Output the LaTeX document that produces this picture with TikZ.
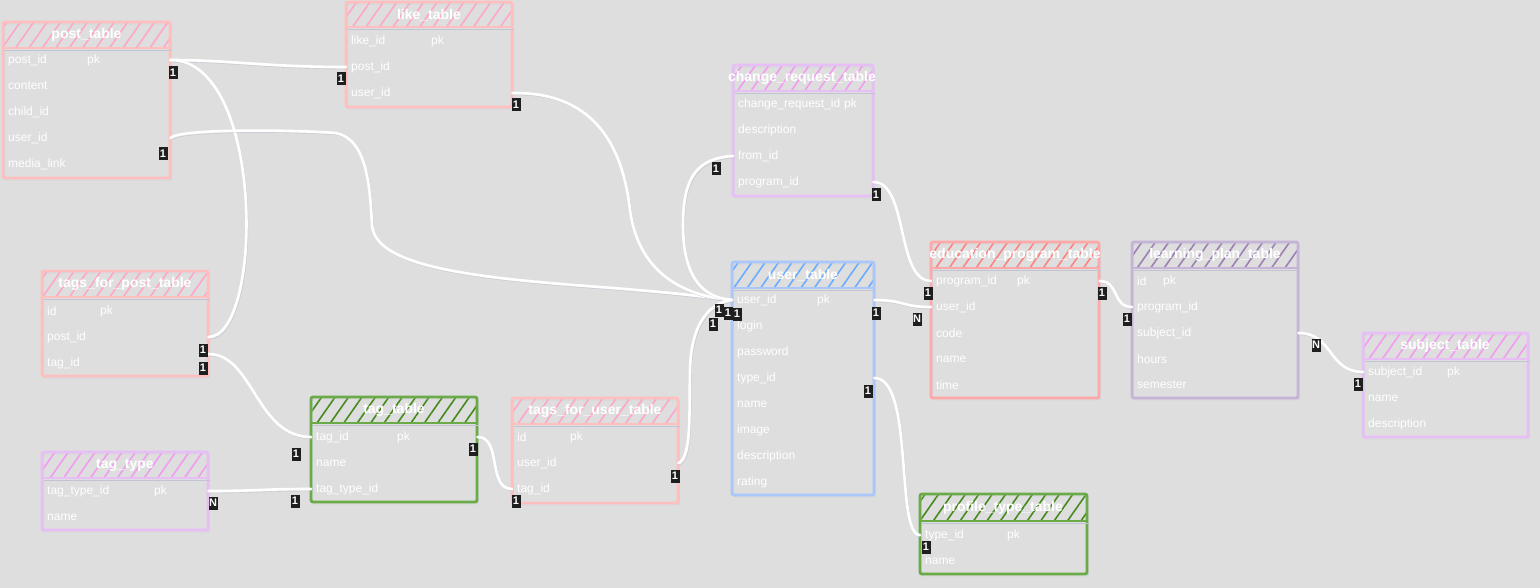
\documentclass[tikz,border=0pt]{standalone}
\usepackage{fontspec}
\setmainfont{Liberation Sans}
\usetikzlibrary{patterns.meta}

\definecolor{bgc}{HTML}{DEDEDE}
\definecolor{shadc}{HTML}{C2C4D4}
\definecolor{pinkc}{HTML}{FFBFBF}
\definecolor{pinkh}{HTML}{FFA6C9}
\definecolor{lilac}{HTML}{E8BEF7}
\definecolor{lilach}{HTML}{F29BF0}
\definecolor{bluec}{HTML}{A9C7F9}
\definecolor{blueh}{HTML}{6AACFF}
\definecolor{salmc}{HTML}{FFA8A8}
\definecolor{salmh}{HTML}{FF8282}
\definecolor{greyc}{HTML}{C6B4D8}
\definecolor{greyh}{HTML}{9C80B4}
\definecolor{greenc}{HTML}{6AAB47}
\definecolor{greenh}{HTML}{468A1E}

\begin{document}
\begin{tikzpicture}[x=1pt, y=-1pt,
    tabframe/.style={draw=#1, line width=2.8pt, rounded corners=2pt,
        preaction={draw=shadc, transform canvas={shift={(1.5pt,-2pt)}}}},
    hatch/.style={pattern={Lines[angle=55,distance=11pt,line width=1.6pt]}, pattern color=#1},
    ttl/.style={text=white, font=\bfseries\fontsize{14}{16}\selectfont, inner sep=0pt},
    field/.style={anchor=west, text=white, font=\fontsize{12}{14}\selectfont, inner xsep=5pt, inner ysep=0pt, minimum height=26pt, text width=#1, align=left},
    pk/.style={anchor=west, text=white, font=\fontsize{12}{14}\selectfont, inner sep=0pt},
    rel/.style={draw=white, line width=2.6pt, line cap=round,
        preaction={draw=shadc, transform canvas={shift={(1.5pt,-2pt)}}}},
    card/.style={fill=black!88, text=white, font=\bfseries\fontsize{11}{11}\selectfont, inner sep=0pt, minimum width=9pt, minimum height=13pt}]

    % Background
    \fill[bgc] (0,0) rectangle (1540,588);
    \useasboundingbox (0,0) rectangle (1540,588);

    % post_table
    \fill[hatch=pinkh] (3,22) rectangle (170,48);
    \draw[tabframe=pinkc] (3,22) rectangle (170,178);
    \draw[tabframe=pinkc] (3,48) -- (170,48);
    \node[ttl] (post) at (86.5,35) {post\_table};
    \node[field=157pt] (post-pid) at (3,60) {post\_id};
    \node[field=157pt] (post-cont) at (3,86) {content};
    \node[field=157pt] (post-child) at (3,112) {child\_id};
    \node[field=157pt] (post-uid) at (3,138) {user\_id};
    \node[field=157pt] (post-media) at (3,164) {media\_link};
    \node[pk] (post-pk) at (87,60) {pk};

    % like_table
    \fill[hatch=pinkh] (346,2) rectangle (512,27);
    \draw[tabframe=pinkc] (346,2) rectangle (512,107);
    \draw[tabframe=pinkc] (346,27) -- (512,27);
    \node[ttl] (like) at (429,15) {like\_table};
    \node[field=156pt] (like-lid) at (346,41) {like\_id};
    \node[field=156pt] (like-pid) at (346,67) {post\_id};
    \node[field=156pt] (like-uid) at (346,93) {user\_id};
    \node[pk] (like-pk) at (431,41) {pk};

    % change_request_table
    \fill[hatch=lilach] (733,65) rectangle (873,91);
    \draw[tabframe=lilac] (733,65) rectangle (873,196);
    \draw[tabframe=lilac] (733,91) -- (873,91);
    \node[ttl] (cr) at (802,78) {change\_request\_table};
    \node[field=130pt] (cr-crid) at (733,104) {change\_request\_id};
    \node[field=130pt] (cr-desc) at (733,130) {description};
    \node[field=130pt] (cr-from) at (733,156) {from\_id};
    \node[field=130pt] (cr-prog) at (733,182) {program\_id};
    \node[pk] (cr-pk) at (844,104) {pk};

    % user_table
    \fill[hatch=blueh] (732,262) rectangle (874,288);
    \draw[tabframe=bluec] (732,262) rectangle (874,495);
    \draw[tabframe=bluec] (732,288) -- (874,288);
    \node[ttl] (user) at (803,275) {user\_table};
    \node[field=132pt] (user-uid) at (732,300) {user\_id};
    \node[field=132pt] (user-login) at (732,326) {login};
    \node[field=132pt] (user-pass) at (732,352) {password};
    \node[field=132pt] (user-type) at (732,378) {type\_id};
    \node[field=132pt] (user-name) at (732,404) {name};
    \node[field=132pt] (user-img) at (732,430) {image};
    \node[field=132pt] (user-desc) at (732,456) {description};
    \node[field=132pt] (user-rate) at (732,482) {rating};
    \node[pk] (user-pk) at (817,300) {pk};

    % education_program_table
    \fill[hatch=salmh] (931,242) rectangle (1099,268);
    \draw[tabframe=salmc] (931,242) rectangle (1099,398);
    \draw[tabframe=salmc] (931,268) -- (1099,268);
    \node[ttl] (edu) at (1015,255) {education\_program\_table};
    \node[field=158pt] (edu-prog) at (931,281) {program\_id};
    \node[field=158pt] (edu-uid) at (931,307) {user\_id};
    \node[field=158pt] (edu-code) at (931,333) {code};
    \node[field=158pt] (edu-name) at (931,359) {name};
    \node[field=158pt] (edu-time) at (931,385) {time};
    \node[pk] (edu-pk) at (1017,281) {pk};

    % learning_plan_table
    \fill[hatch=greyh] (1132,242) rectangle (1298,268);
    \draw[tabframe=greyc] (1132,242) rectangle (1298,398);
    \draw[tabframe=greyc] (1132,268) -- (1298,268);
    \node[ttl] (lp) at (1215,255) {learning\_plan\_table};
    \node[field=156pt] (lp-id) at (1132,281) {id};
    \node[field=156pt] (lp-prog) at (1132,307) {program\_id};
    \node[field=156pt] (lp-subj) at (1132,333) {subject\_id};
    \node[field=156pt] (lp-hours) at (1132,359) {hours};
    \node[field=156pt] (lp-sem) at (1132,385) {semester};
    \node[pk] (lp-pk) at (1163,281) {pk};

    % subject_table
    \fill[hatch=lilach] (1363,333) rectangle (1528,359);
    \draw[tabframe=lilac] (1363,333) rectangle (1528,437);
    \draw[tabframe=lilac] (1363,359) -- (1528,359);
    \node[ttl] (subj) at (1445,346) {subject\_table};
    \node[field=155pt] (subj-sid) at (1363,372) {subject\_id};
    \node[field=155pt] (subj-name) at (1363,398) {name};
    \node[field=155pt] (subj-desc) at (1363,424) {description};
    \node[pk] (subj-pk) at (1447,372) {pk};

    % profile_type_table
    \fill[hatch=greenh] (920,494) rectangle (1087,521);
    \draw[tabframe=greenc] (920,494) rectangle (1087,574);
    \draw[tabframe=greenc] (920,521) -- (1087,521);
    \node[ttl] (pt) at (1003,508) {profile\_type\_table};
    \node[field=157pt] (pt-type) at (920,535) {type\_id};
    \node[field=157pt] (pt-name) at (920,561) {name};
    \node[pk] (pt-pk) at (1007,535) {pk};

    % tags_for_post_table
    \fill[hatch=pinkh] (42,271) rectangle (208,297);
    \draw[tabframe=pinkc] (42,271) rectangle (208,376);
    \draw[tabframe=pinkc] (42,297) -- (208,297);
    \node[ttl] (tfp) at (125,284) {tags\_for\_post\_table};
    \node[field=156pt] (tfp-id) at (42,311) {id};
    \node[field=156pt] (tfp-pid) at (42,337) {post\_id};
    \node[field=156pt] (tfp-tag) at (42,363) {tag\_id};
    \node[pk] (tfp-pk) at (100,311) {pk};

    % tag_table
    \fill[hatch=greenh] (311,397) rectangle (477,423);
    \draw[tabframe=greenc] (311,397) rectangle (477,502);
    \draw[tabframe=greenc] (311,423) -- (477,423);
    \node[ttl] (tag) at (394,410) {tag\_table};
    \node[field=156pt] (tag-tid) at (311,437) {tag\_id};
    \node[field=156pt] (tag-name) at (311,463) {name};
    \node[field=156pt] (tag-ttid) at (311,489) {tag\_type\_id};
    \node[pk] (tag-pk) at (397,437) {pk};

    % tag_type
    \fill[hatch=lilach] (42,452) rectangle (208,478);
    \draw[tabframe=lilac] (42,452) rectangle (208,530);
    \draw[tabframe=lilac] (42,478) -- (208,478);
    \node[ttl] (tt) at (125,465) {tag\_type};
    \node[field=156pt] (tt-ttid) at (42,491) {tag\_type\_id};
    \node[field=156pt] (tt-name) at (42,517) {name};
    \node[pk] (tt-pk) at (154,491) {pk};

    % tags_for_user_table
    \fill[hatch=pinkh] (512,398) rectangle (678,424);
    \draw[tabframe=pinkc] (512,398) rectangle (678,503);
    \draw[tabframe=pinkc] (512,424) -- (678,424);
    \node[ttl] (tfu) at (595,411) {tags\_for\_user\_table};
    \node[field=156pt] (tfu-id) at (512,437) {id};
    \node[field=156pt] (tfu-uid) at (512,463) {user\_id};
    \node[field=156pt] (tfu-tag) at (512,489) {tag\_id};
    \node[pk] (tfu-pk) at (570,437) {pk};

    % Relations
    \draw[rel] (post-pid.east) .. controls +(60,0) and +(-80,0) .. (like-pid.west);
    \draw[rel] (post-pid.east) .. controls +(95,0) and +(55,0) .. (tfp-pid.east);
    \draw[rel] (post-uid.east) .. controls (180,128) and (300,130) .. (335,133)
        .. controls (368,138) and (370,190) .. (372,225)
        .. controls (375,268) and (480,278) .. (600,287)
        .. controls (680,293) and (715,298) .. (user-uid.west);
    \draw[rel] (like-uid.east) .. controls (590,92) and (622,140) .. (630,210)
        .. controls (638,270) and (680,296) .. (user-uid.west);
    \draw[rel] (cr-from.west) .. controls (695,158) and (683,180) .. (683,225)
        .. controls (683,280) and (705,298) .. (user-uid.west);
    \draw[rel] (tfu-uid.east) .. controls (692,458) and (689,410) .. (690,370)
        .. controls (691,320) and (712,302) .. (user-uid.west);
    \draw[rel] (cr-prog.east) .. controls +(35,0) and +(-35,0) .. (edu-prog.west);
    \draw[rel] (user-uid.east) .. controls +(30,0) and +(-30,0) .. (edu-uid.west);
    \draw[rel] (user-type.east) .. controls +(40,0) and +(-25,0) .. (pt-type.west);
    \draw[rel] (edu-prog.east) .. controls +(20,0) and +(-20,0) .. (lp-prog.west);
    \draw[rel] (lp-subj.east) .. controls +(35,0) and +(-35,0) .. (subj-sid.west);
    \draw[rel] ([yshift=9pt]tfp-tag.east) .. controls +(45,0) and +(-55,0) .. (tag-tid.west);
    \draw[rel] (tt-ttid.east) .. controls +(50,0) and +(-50,0) .. (tag-ttid.west);
    \draw[rel] (tag-tid.east) .. controls +(25,0) and +(-25,0) .. (tfu-tag.west);

    % Cardinalities
    \node[card] (m-post-like) at (173,73) {1};
    \node[card] (m-like-post) at (341,79) {1};
    \node[card] (m-post-user) at (163,154) {1};
    \node[card] (m-like-user) at (516,105) {1};
    \node[card] (m-cr-user) at (716,169) {1};
    \node[card] (m-cr-edu) at (876,195) {1};
    \node[card] (m-edu-cr) at (928,293) {1};
    \node[card] (m-user-edu) at (876,313) {1};
    \node[card] (m-edu-user) at (917,319) {N};
    \node[card] (m-user-pt) at (868,391) {1};
    \node[card] (m-pt-user) at (926,547) {1};
    \node[card] (m-edu-lp) at (1102,293) {1};
    \node[card] (m-lp-edu) at (1127,319) {1};
    \node[card] (m-lp-subj) at (1316,345) {N};
    \node[card] (m-subj-lp) at (1358,384) {1};
    \node[card] (m-user-a) at (713,324) {1};
    \node[card] (m-user-b) at (719,310) {1};
    \node[card] (m-user-c) at (728,313) {1};
    \node[card] (m-user-d) at (737,314) {1};
    \node[card] (m-tfp-post) at (203,350) {1};
    \node[card] (m-tfp-tag) at (203,368) {1};
    \node[card] (m-tag-tfp) at (296,454) {1};
    \node[card] (m-tt-tag) at (213,503) {N};
    \node[card] (m-tag-tt) at (295,501) {1};
    \node[card] (m-tag-tfu) at (473,449) {1};
    \node[card] (m-tfu-tag) at (516,501) {1};
    \node[card] (m-tfu-user) at (675,476) {1};
\end{tikzpicture}
\end{document}
